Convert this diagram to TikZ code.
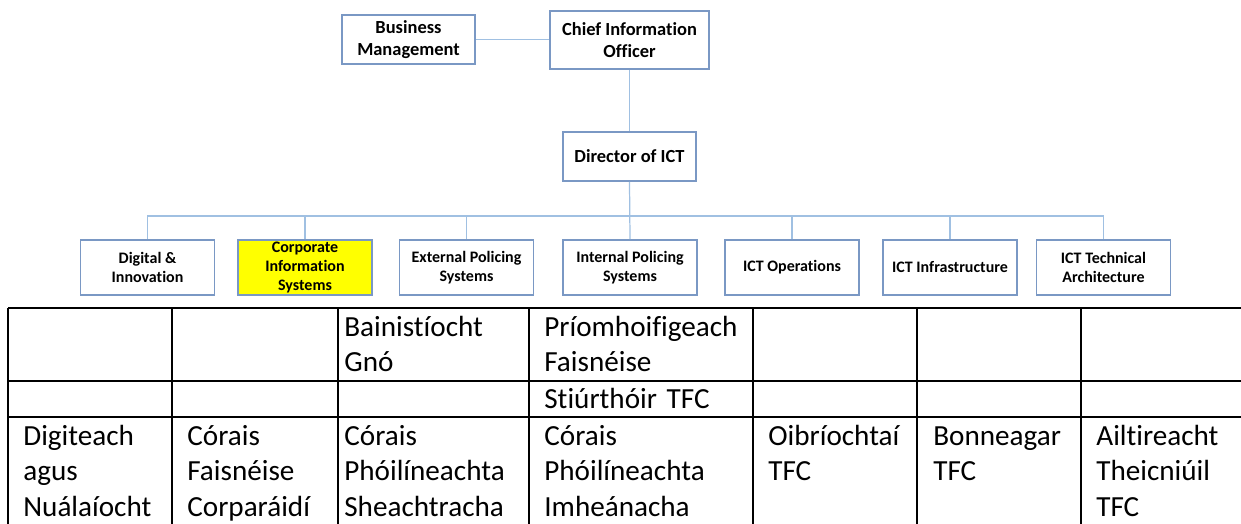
\documentclass[tikz,border=0pt]{standalone}
\usepackage{fontspec}
\setmainfont{Carlito}[RawFeature={-liga;-clig;-calt}]
\usepackage{tikz}
\definecolor{boxblue}{RGB}{122,152,196}
\definecolor{linkblue}{RGB}{160,192,226}
\definecolor{unityellow}{RGB}{255,255,0}

\begin{document}
\begin{tikzpicture}[x=0.02cm,y=-0.02cm,
  every node/.style={inner sep=0pt},
  post/.style={draw=boxblue,line width=1.1pt,fill=white,align=center,font=\bfseries\fontsize{10.5}{12.3}\selectfont},
  unit/.style={post,minimum width=2.68cm,minimum height=1.1cm,font=\bfseries\fontsize{9.1}{10.8}\selectfont},
  link/.style={linkblue,line width=0.7pt},
  cell/.style={anchor=base west,text width=4.2cm,align=left,font=\fontsize{16.6}{20.3}\selectfont},
  tabline/.style={black,line width=1.2pt}]
          \useasboundingbox (0,0) rectangle (1241,524);
          \clip (0,0) rectangle (1241,524);
          \node[post,minimum width=2.66cm,minimum height=0.98cm] (bm) at (408.5,39.5) {Business\\Management};
          \node[post,minimum width=3.18cm,minimum height=1.16cm] (cio) at (629.5,40) {Chief Information\\Officer};
          \node[post,minimum width=2.66cm,minimum height=0.98cm] (dir) at (629.5,156.5) {Director of ICT};
          \node[unit] (dig) at (147.5,267.5) {Digital \&\\Innovation};
          \node[unit,fill=unityellow] (cis) at (305,267.5) {Corporate\\Information\\Systems};
          \node[unit] (eps) at (466.5,267.5) {External Policing\\Systems};
          \node[unit] (ips) at (630,267.5) {Internal Policing\\Systems};
          \node[unit] (ops) at (792,267.5) {ICT Operations};
          \node[unit] (inf) at (950,267.5) {ICT Infrastructure};
          \node[unit] (arc) at (1103.5,267.5) {ICT Technical\\Architecture};
          \coordinate (bus) at (630,216);
            \draw[link] (bm.east) -- (bm.east -| cio.west);
            \draw[link] (cio.south) -- (dir.north);
            \draw[link] (dir.south) -- (ips.north);
            \draw[link] (dig.north) |- (bus);
            \draw[link] (arc.north) |- (bus);
            \draw[link] (cis.north) -- (cis.north |- bus);
            \draw[link] (eps.north) -- (eps.north |- bus);
            \draw[link] (ops.north) -- (ops.north |- bus);
            \draw[link] (inf.north) -- (inf.north |- bus);
            \draw[tabline] (8,308) -- (1260,308);
            \draw[tabline] (8,381) -- (1260,381);
            \draw[tabline] (8,417) -- (1260,417);
            \draw[tabline] (8,308) -- (8,540);
            \draw[tabline] (172,308) -- (172,540);
            \draw[tabline] (338,308) -- (338,540);
            \draw[tabline] (529,308) -- (529,540);
            \draw[tabline] (753,308) -- (753,540);
            \draw[tabline] (917,308) -- (917,540);
            \draw[tabline] (1081,308) -- (1081,540);
          \node[cell] (bain) at (344,336) {Bainistíocht\\Gnó};
          \node[cell] (prio) at (544,336) {Príomhoifigeach\\Faisnéise};
          \node[cell] (stiu) at (544,408) {Stiúrthóir TFC};
          \node[cell] (digi) at (23,445) {Digiteach\\agus\\Nuálaíocht};
          \node[cell] (corp) at (187,445) {Córais\\Faisnéise\\Corparáidí};
          \node[cell] (seach) at (344,445) {Córais\\Phóilíneachta\\Sheachtracha};
          \node[cell] (imhe) at (544,445) {Córais\\Phóilíneachta\\Imheánacha};
          \node[cell] (oibr) at (768,445) {Oibríochtaí\\TFC};
          \node[cell] (bonn) at (933,445) {Bonneagar\\TFC};
          \node[cell] (ailt) at (1096,445) {Ailtireacht\\Theicniúil\\TFC};
        \end{tikzpicture}
\end{document}
